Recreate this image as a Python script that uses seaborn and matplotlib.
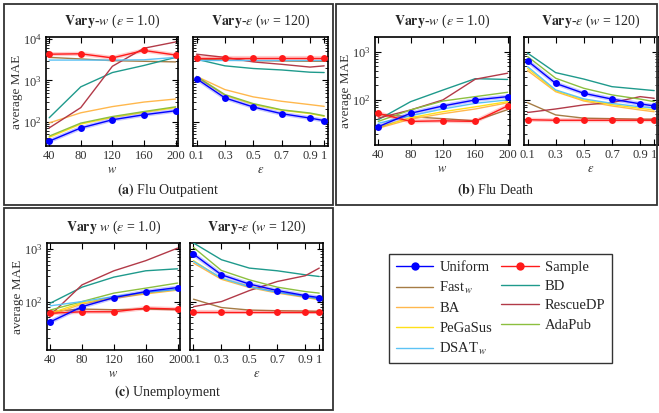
import numpy as np
import pandas as pd
import matplotlib.pyplot as plt
import seaborn as sns
from matplotlib.patches import Rectangle
from matplotlib.lines import Line2D
from matplotlib.ticker import NullFormatter, LogLocator

sns.set_style('ticks')
plt.rcParams['font.family'] = ['Liberation Serif', 'DejaVu Serif']
plt.rcParams['mathtext.fontset'] = 'stix'

# x values
w_vals = [40, 80, 120, 160, 200]
eps_vals = [0.1, 0.3, 0.5, 0.7, 0.9, 1.0]
eps_labels = ['0.1', '0.3', '0.5', '0.7', '0.9', '1']

methods = ['Fast_w', 'BD', 'BA', 'RescueDP', 'PeGaSus', 'AdaPub', 'DSAT_w', 'Sample', 'Uniform']
labels = {'Uniform': 'Uniform', 'Sample': 'Sample', 'Fast_w': r'Fast$_{\,w}$', 'BD': 'BD',
          'BA': 'BA', 'RescueDP': 'RescueDP', 'PeGaSus': 'PeGaSus', 'AdaPub': 'AdaPub',
          'DSAT_w': r'DSAT$_{\,w}$'}
colors = {'Uniform': '#0000ff', 'Sample': '#ff1a1a', 'Fast_w': '#a57c45', 'BD': '#1f9a8c',
          'BA': '#ffb84d', 'RescueDP': '#b23a48', 'PeGaSus': '#ffe019', 'AdaPub': '#8cbf3f',
          'DSAT_w': '#5cc3f5'}

# (a) Flu Outpatient
flu_out_w = {
    'Uniform':  [34, 71, 112, 148, 185],
    'Sample':   [4300, 4400, 3500, 5300, 4100],
    'Fast_w':   [3600, 3300, 3000, 2900, 2800],
    'BD':       [125, 700, 1550, 2300, 3600],
    'BA':       [94, 165, 233, 300, 355],
    'RescueDP': [71, 220, 2200, 6000, 8500],
    'PeGaSus':  [42, 88, 128, 170, 220],
    'AdaPub':   [45, 93, 134, 177, 230],
    'DSAT_w':   [3100, 3100, 3100, 3150, 3600],
}
flu_out_eps = {
    'Uniform':  [1100, 378, 228, 157, 123, 107],
    'Sample':   [3400, 3400, 3400, 3400, 3400, 3400],
    'Fast_w':   [3300, 3100, 3000, 2950, 2900, 2900],
    'BD':       [3250, 2250, 1940, 1790, 1580, 1550],
    'BA':       [1250, 600, 400, 313, 260, 236],
    'RescueDP': [4300, 3600, 2800, 2450, 2100, 2250],
    'PeGaSus':  [1200, 440, 265, 190, 158, 136],
    'AdaPub':   [1250, 455, 275, 195, 163, 140],
    'DSAT_w':   [3100, 3100, 3100, 3100, 3100, 3100],
}

# (b) Flu Death
flu_death_w = {
    'Uniform':  [28, 53, 75, 100, 117],
    'Sample':   [53, 36, 37, 36, 75],
    'Fast_w':   [50, 45, 41, 37, 63],
    'BD':       [39, 92, 160, 275, 265],
    'BA':       [26, 40, 52, 65, 87],
    'RescueDP': [42, 62, 100, 268, 357],
    'PeGaSus':  [27, 43, 57, 72, 92],
    'AdaPub':   [36, 62, 95, 117, 144],
    'DSAT_w':   [33, 47, 65, 85, 100],
}
flu_death_eps = {
    'Uniform':  [643, 220, 137, 104, 83, 75],
    'Sample':   [39, 38, 38, 38, 38, 38],
    'Fast_w':   [88, 49, 42, 41, 40, 40],
    'BD':       [930, 367, 270, 188, 166, 156],
    'BA':       [405, 148, 95, 75, 62, 57],
    'RescueDP': [55, 65, 79, 88, 117, 108],
    'PeGaSus':  [450, 155, 100, 80, 67, 62],
    'AdaPub':   [790, 281, 174, 127, 104, 92],
    'DSAT_w':   [490, 161, 105, 85, 72, 68],
}

# (c) Unemployment
unemp_w = {
    'Uniform':  [41, 80, 119, 155, 185],
    'Sample':   [60, 64, 64, 75, 72],
    'Fast_w':   [65, 72, 70, 72, 70],
    'BD':       [93, 188, 292, 385, 420],
    'BA':       [55, 90, 115, 140, 165],
    'RescueDP': [55, 208, 385, 600, 1040],
    'PeGaSus':  [60, 95, 120, 145, 170],
    'AdaPub':   [69, 100, 145, 180, 225],
    'DSAT_w':   [83, 100, 125, 150, 170],
}
unemp_eps = {
    'Uniform':  [800, 323, 215, 162, 130, 119],
    'Sample':   [64, 64, 64, 64, 64, 64],
    'Fast_w':   [111, 77, 69, 67, 66, 65],
    'BD':       [1300, 625, 433, 385, 323, 300],
    'BA':       [540, 265, 185, 145, 120, 108],
    'RescueDP': [80, 100, 162, 241, 310, 433],
    'PeGaSus':  [600, 275, 195, 150, 124, 110],
    'AdaPub':   [1070, 390, 259, 188, 155, 145],
    'DSAT_w':   [580, 280, 190, 150, 125, 112],
}

W, H = 659, 413
fig = plt.figure(figsize=(W / 100, H / 100), dpi=100)


def ax_at(x0, y0, x1, y1, sharey=None):
    return fig.add_axes([x0 / W, 1 - y1 / H, (x1 - x0) / W, (y1 - y0) / H], sharey=sharey)


def draw(ax, xs, data):
    for m in methods:
        df = pd.DataFrame({'x': xs, 'mae': data[m]})
        if m in ('Uniform', 'Sample'):
            sns.lineplot(data=df, x='x', y='mae', ax=ax, color=colors[m], lw=3.0,
                         alpha=0.22, zorder=4)
            sns.lineplot(data=df, x='x', y='mae', ax=ax, color=colors[m], lw=1.0,
                         marker='o', markersize=5, markeredgewidth=0, zorder=5)
        else:
            sns.lineplot(data=df, x='x', y='mae', ax=ax, color=colors[m], lw=1.0, zorder=3)


def style(ax, ylim, eps, left):
    ax.set_yscale('log')
    ax.set_ylim(ylim)
    if eps:
        ax.set_xlim(0.075, 1.027)
        ax.set_xticks(eps_vals)
        ax.set_xticklabels(eps_labels)
        ax.set_xlabel(r'$\epsilon$', fontsize=9, labelpad=1)
    else:
        ax.set_xlim(36, 203)
        ax.set_xticks(w_vals)
        ax.set_xlabel(r'$w$', fontsize=9, labelpad=1)
    ax.yaxis.set_major_locator(LogLocator(base=10))
    ax.yaxis.set_minor_locator(LogLocator(base=10, subs=np.arange(2, 10), numticks=20))
    ax.yaxis.set_minor_formatter(NullFormatter())
    ax.tick_params(which='both', direction='in', top=True, right=True,
                   labelsize=9, pad=3, colors='black', labelcolor='#333333')
    ax.tick_params(which='major', length=4, width=0.8)
    ax.tick_params(axis='y', which='minor', length=2.5, width=0.6, left=True, right=True)
    if left:
        ax.set_ylabel('average MAE', fontsize=9.5, labelpad=0, color='#333333')
    else:
        ax.set_ylabel('')
        ax.tick_params(axis='y', which='both', labelleft=False)
    for s in ax.spines.values():
        s.set_linewidth(1.2)
        s.set_color('black')


title_w = r'$\mathbf{Vary}$-$w$ ($\epsilon$ = 1.0)'
title_w2 = r'$\mathbf{Vary}$ $w$ ($\epsilon$ = 1.0)'
title_e = r'$\mathbf{Vary}$-$\epsilon$ ($w$ = 120)'

panels = [
    ((46, 37, 178, 146), (193, 37, 328, 146), flu_out_w, flu_out_eps, (26, 11200), title_w),
    ((375, 37, 510, 145), (524, 37, 658, 145), flu_death_w, flu_death_eps, (11.7, 2000), title_w),
    ((47, 243, 180, 350), (190, 243, 323, 350), unemp_w, unemp_eps, (12, 1300), title_w2),
]

for lbox, rbox, dw, de, ylim, tw in panels:
    axl = ax_at(*lbox)
    axr = ax_at(*rbox, sharey=axl)
    draw(axl, w_vals, dw)
    draw(axr, eps_vals, de)
    style(axl, ylim, False, True)
    style(axr, ylim, True, False)
    axl.set_title(tw, fontsize=10, pad=9)
    axr.set_title(title_e, fontsize=10, pad=9)

# panel boxes
for x0, y0, x1, y1 in [(4, 4, 333, 205), (336, 4, 657, 205), (4, 208, 333, 410)]:
    fig.patches.append(Rectangle((x0 / W, 1 - y1 / H), (x1 - x0) / W, (y1 - y0) / H,
                                 transform=fig.transFigure, fill=False,
                                 ec='#333333', lw=1.3))

# captions
fig.text(168 / W, 1 - 190 / H, r'$\mathbf{(a)}$ Flu Outpatient', ha='center', va='center', fontsize=10)
fig.text(496 / W, 1 - 190 / H, r'$\mathbf{(b)}$ Flu Death', ha='center', va='center', fontsize=10)
fig.text(168 / W, 1 - 392 / H, r'$\mathbf{(c)}$ Unemployment', ha='center', va='center', fontsize=10)

# legend (row-major in the reference -> column order here)
order = ['Uniform', 'Fast_w', 'BA', 'PeGaSus', 'DSAT_w', 'Sample', 'BD', 'RescueDP', 'AdaPub']
handles = []
for m in order:
    if m in ('Uniform', 'Sample'):
        handles.append(Line2D([], [], color=colors[m], lw=1.0, marker='o', markersize=6,
                              markeredgewidth=0))
    else:
        handles.append(Line2D([], [], color=colors[m], lw=1.0))
leg = fig.legend(handles, [labels[m] for m in order], ncol=2, loc='upper left',
                 bbox_to_anchor=(389 / W, 1 - 254 / H), borderaxespad=0, fontsize=10.5,
                 frameon=True, fancybox=False, edgecolor='black', handlelength=2.6,
                 handletextpad=0.4, columnspacing=0.6, labelspacing=0.42, borderpad=0.45)
leg.get_frame().set_linewidth(1.0)

fig.savefig('out.png', dpi=100)
